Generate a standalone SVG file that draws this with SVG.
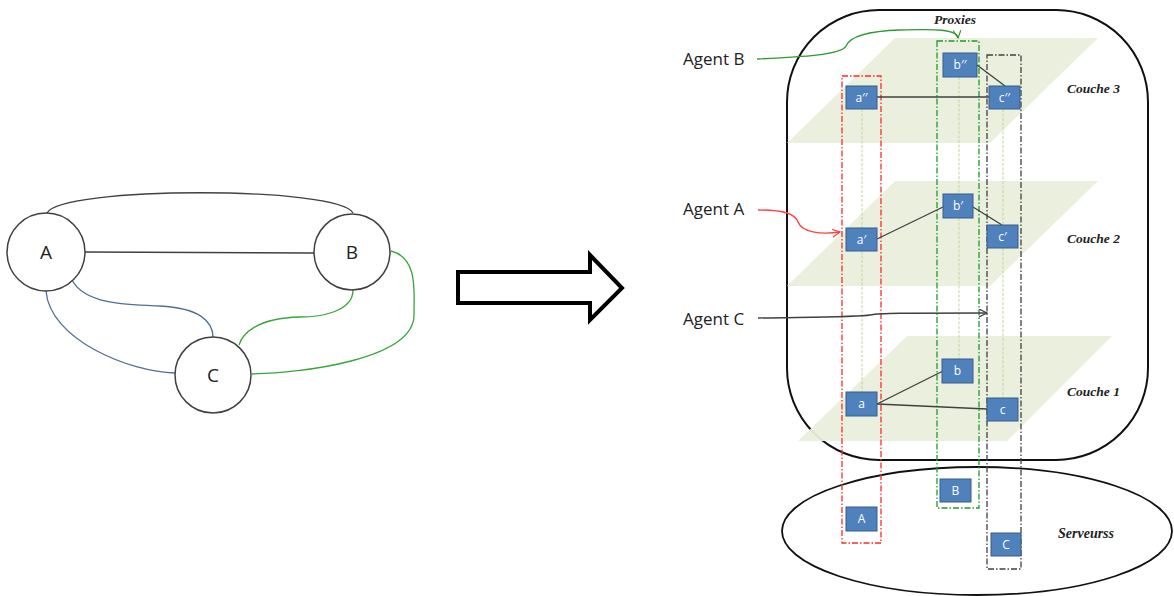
<svg xmlns="http://www.w3.org/2000/svg" width="1174" height="596" viewBox="0 0 1174 596">
<defs>
<style>
.circ{fill:#fff;stroke:#404040;stroke-width:1.5}
.ctext{font-family:"Open Sans","Liberation Sans",sans-serif;font-size:19px;fill:#222;text-anchor:middle}
.edgeK{fill:none;stroke:#404040;stroke-width:1.3}
.edgeBl{fill:none;stroke:#4f6f98;stroke-width:1.3}
.edgeG{fill:none;stroke:#3aa53a;stroke-width:1.3}
.plane{fill:#e9efdb;opacity:0.95}
.box{fill:#4f81bd;stroke:#385d8a;stroke-width:1}
.btext{font-family:"Open Sans","Liberation Sans",sans-serif;font-size:12px;fill:#fff;text-anchor:middle}
.layer{font-family:"Liberation Serif",serif;font-style:italic;font-weight:bold;font-size:13.5px;fill:#222}
.agent{font-family:"Open Sans","Liberation Sans",sans-serif;font-size:17px;fill:#222}
.vline{stroke:#c3d69b;stroke-width:1;stroke-dasharray:3 1.5}
.grpR{fill:none;stroke:#ff2a2a;stroke-width:1.3;stroke-dasharray:6 2 1.5 2}
.grpG{fill:none;stroke:#1f9a2a;stroke-width:1.3;stroke-dasharray:6 2 1.5 2}
.grpK{fill:none;stroke:#404040;stroke-width:1.3;stroke-dasharray:6 2 1.5 2}
.link{stroke:#404040;stroke-width:1.3}
</style>
<marker id="arrG" markerUnits="userSpaceOnUse" markerWidth="10" markerHeight="10" refX="8" refY="4" orient="auto"><path d="M0,0 L8,4 L0,8" fill="none" stroke="#2f9a2f" stroke-width="1.2"/></marker>
<marker id="arrR" markerUnits="userSpaceOnUse" markerWidth="10" markerHeight="10" refX="8" refY="4" orient="auto"><path d="M0,0 L8,4 L0,8" fill="none" stroke="#ff4040" stroke-width="1.2"/></marker>
<marker id="arrK" markerUnits="userSpaceOnUse" markerWidth="10" markerHeight="10" refX="8" refY="4" orient="auto"><path d="M0,0 L8,4 L0,8" fill="none" stroke="#404040" stroke-width="1.2"/></marker>
</defs>
<rect width="1174" height="596" fill="#fff"/>

<!-- Left graph connectors -->
<g id="left-connectors">
<path class="edgeK" d="M47,213 C 60,186 340,186 353,213"/>
<path class="edgeK" d="M85,252 L314,253"/>
<path class="edgeBl" d="M72,280 C 85,305 130,305 160,306 C 200,308 213,322 213,337"/>
<path class="edgeBl" d="M46,291 C 50,340 130,372 175,373"/>
<path class="edgeG" d="M353,290 C 353,312 320,317 300,317 C 255,318 242,335 239,345"/>
<path class="edgeG" d="M391,251 C 418,258 414,290 414,315 C 414,360 300,373 252,374"/>
</g>
<g id="node-A"><circle class="circ" cx="46" cy="252" r="39"/><text class="ctext" x="46" y="259">A</text></g>
<g id="node-B"><circle class="circ" cx="352" cy="252" r="38"/><text class="ctext" x="352" y="259">B</text></g>
<g id="node-C"><circle class="circ" cx="213" cy="375" r="38"/><text class="ctext" x="213" y="382">C</text></g>

<!-- Big hollow arrow -->
<g id="big-arrow">
<path d="M458,272 L590,272 L590,255 L622,288 L590,320 L590,303 L458,303 Z" fill="#fff" stroke="#000" stroke-width="4" stroke-linejoin="miter"/>
</g>

<!-- Right: containers -->
<g id="proxies-container">
<rect x="787" y="10" width="361" height="450" rx="92" ry="92" fill="#fff" stroke="#111" stroke-width="2"/>
<text class="layer" x="955" y="24" text-anchor="middle">Proxies</text>
</g>
<g id="servers-container">
<ellipse cx="977" cy="531" rx="195" ry="64" fill="#fff" stroke="#111" stroke-width="1.8"/>
<text class="layer" x="1058" y="538" style="font-size:14px">Serveurss</text>
</g>

<!-- Planes -->
<g id="couche-3"><polygon class="plane" points="895,38 1098,38 990,143 787,143"/><text class="layer" x="1067" y="93">Couche 3</text></g>
<g id="couche-2"><polygon class="plane" points="895,181 1098,181 990,286 787,286"/><text class="layer" x="1067" y="243">Couche 2</text></g>
<g id="couche-1"><polygon class="plane" points="907,336 1112,336 1007,441 798,441"/><text class="layer" x="1067" y="396">Couche 1</text></g>

<!-- light green vertical lines -->
<g id="vertical-lines">
<line class="vline" x1="862" y1="109" x2="862" y2="228"/>
<line class="vline" x1="862" y1="251" x2="862" y2="392"/>
<line class="vline" x1="959" y1="77" x2="959" y2="194"/>
<line class="vline" x1="959" y1="218" x2="959" y2="359"/>
<line class="vline" x1="1003" y1="109" x2="1003" y2="225"/>
<line class="vline" x1="1003" y1="248" x2="1003" y2="398"/>
</g>

<!-- Agent groups (dash-dot) -->
<g id="group-A"><rect class="grpR" x="842" y="76" width="39" height="467"/></g>
<g id="group-B"><rect class="grpG" x="937" y="41" width="42" height="467"/></g>
<g id="group-C"><rect class="grpK" x="987" y="55" width="34" height="514"/></g>

<!-- Connectors -->
<g id="connectors">
<line class="link" x1="877" y1="97" x2="989" y2="97"/>
<line class="link" x1="977" y1="65" x2="1005" y2="86"/>
<line class="link" x1="877" y1="239" x2="943" y2="207"/>
<line class="link" x1="973" y1="207" x2="1002" y2="225"/>
<line class="link" x1="877" y1="404" x2="943" y2="371"/>
<line class="link" x1="877" y1="404" x2="987" y2="409"/>
<path d="M757,59 C 800,57 842,55 846,46 C 850,36 870,31 900,30 C 935,29 957,29 958,38" fill="none" stroke="#2f9a2f" stroke-width="1.4" marker-end="url(#arrG)"/>
<path d="M758,210 C 785,210 795,214 798,222 C 802,232 820,235 840,232" fill="none" stroke="#ff4040" stroke-width="1.4" marker-end="url(#arrR)"/>
<path d="M758,318 C 820,317 860,317 870,315 C 880,313 900,313 987,313" fill="none" stroke="#404040" stroke-width="1.4" marker-end="url(#arrK)"/>
</g>

<!-- Boxes -->
<g id="node-b2"><rect class="box" x="943" y="53" width="34" height="24"/><text class="btext" x="960" y="69">b′′</text></g>
<g id="node-a2"><rect class="box" x="846" y="86" width="31" height="23"/><text class="btext" x="861.5" y="102">a′′</text></g>
<g id="node-c2"><rect class="box" x="989" y="86" width="31" height="23"/><text class="btext" x="1004.5" y="102">c′′</text></g>
<g id="node-b1"><rect class="box" x="943" y="194" width="30" height="24"/><text class="btext" x="958" y="210">b′</text></g>
<g id="node-a1"><rect class="box" x="846" y="228" width="31" height="23"/><text class="btext" x="861.5" y="244">a′</text></g>
<g id="node-c1"><rect class="box" x="987" y="225" width="31" height="23"/><text class="btext" x="1002.5" y="241">c′</text></g>
<g id="node-b"><rect class="box" x="942" y="359" width="31" height="24"/><text class="btext" x="957.5" y="375">b</text></g>
<g id="node-a"><rect class="box" x="846" y="392" width="31" height="24"/><text class="btext" x="861.5" y="408">a</text></g>
<g id="node-c"><rect class="box" x="987" y="398" width="31" height="23"/><text class="btext" x="1002.5" y="414">c</text></g>
<g id="node-SB"><rect class="box" x="940" y="479" width="31" height="23"/><text class="btext" x="955.5" y="495">B</text></g>
<g id="node-SA"><rect class="box" x="846" y="507" width="31" height="24"/><text class="btext" x="861.5" y="523">A</text></g>
<g id="node-SC"><rect class="box" x="991" y="533" width="30" height="23"/><text class="btext" x="1006" y="549">C</text></g>

<!-- Agent labels -->
<g id="agent-labels">
<text class="agent" x="683" y="65">Agent B</text>
<text class="agent" x="683" y="215">Agent A</text>
<text class="agent" x="683" y="325">Agent C</text>
</g>
</svg>
